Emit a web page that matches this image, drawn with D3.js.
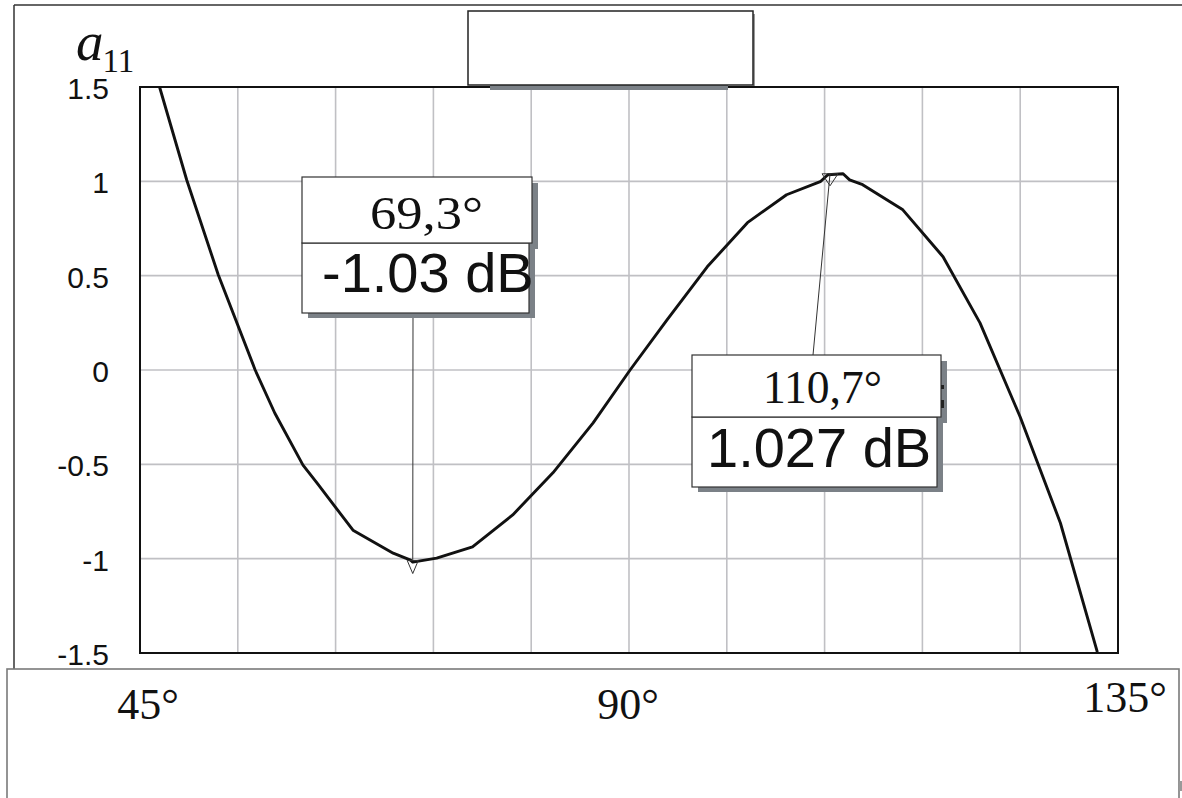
<!DOCTYPE html>
<html>
<head>
<meta charset="utf-8">
<script src="https://cdn.jsdelivr.net/npm/d3@7"></script>
<style>
html,body{margin:0;padding:0;background:#fff;}
svg{display:block;}
</style>
</head>
<body>
<svg id="chart" width="1182" height="798"></svg>
<script>
// ---- data ----
const angles = [46.8, 49.3, 52.2, 55.6, 57.4, 60.0, 61.3, 64.6, 68.3, 69.9, 70.1, 72.3, 75.6, 79.3, 83.0, 86.7, 90.1, 93.5, 97.2, 100.9, 104.5, 107.6, 108.3, 109.7, 110.3, 111.5, 115.2, 118.9, 122.3, 126.0, 129.7, 133.1];
const a11 = [1.50, 1.007, 0.505, 0.0, -0.228, -0.504, -0.60, -0.849, -0.971, -1.008, -1.018, -0.997, -0.938, -0.768, -0.545, -0.28, 0.0, 0.266, 0.547, 0.781, 0.929, 0.998, 1.035, 1.04, 1.008, 0.982, 0.849, 0.60, 0.25, -0.249, -0.811, -1.495];
const yTicks = [1.5, 1, 0.5, 0, -0.5, -1, -1.5];
const yTickLabels = ["1.5", "1", "0.5", "0", "-0.5", "-1", "-1.5"];
const xGrid = [45, 54, 63, 72, 81, 90, 99, 108, 117, 126, 135];
const xTicks = [45, 90, 135];
const xTickLabels = ["45°", "90°", "135°"];
const markerAngles = [70.1, 108.5];
const markerValues = [-1.01, 1.04];
const markerAngleLabels = ["69,3°", "110,7°"];
const markerValueLabels = ["-1.03 dB", "1.027 dB"];

// ---- layout ----
const svg = d3.select("#chart");
const L = 140, R = 1118, T = 87, B = 653;
const x = d3.scaleLinear().domain([45, 135]).range([L, R]);
const y = d3.scaleLinear().domain([-1.5, 1.5]).range([B, T]);
const shadow = "#7b8187";

// outer frame
svg.append("line").attr("x1", 14).attr("y1", 5).attr("x2", 1182).attr("y2", 5)
  .attr("stroke", "#333").attr("stroke-width", 1.5);
svg.append("line").attr("x1", 14).attr("y1", 5).attr("x2", 14).attr("y2", 670)
  .attr("stroke", "#333").attr("stroke-width", 1.5);

// grid
const g = svg.append("g");
g.selectAll("line.vg").data(xGrid).enter().append("line")
  .attr("x1", d => x(d)).attr("x2", d => x(d)).attr("y1", T).attr("y2", B)
  .attr("stroke", "#c0c0c4").attr("stroke-width", 1.6);
g.selectAll("line.hg").data(yTicks).enter().append("line")
  .attr("y1", d => y(d)).attr("y2", d => y(d)).attr("x1", L).attr("x2", R)
  .attr("stroke", "#c0c0c4").attr("stroke-width", 1.6);

// plot border
svg.append("rect").attr("x", L).attr("y", T).attr("width", R - L).attr("height", B - T)
  .attr("fill", "none").attr("stroke", "#111").attr("stroke-width", 2);

// y tick labels
svg.selectAll("text.yl").data(yTicks).enter().append("text")
  .attr("x", 109).attr("y", d => y(d) + 4)
  .attr("text-anchor", "end").attr("dominant-baseline", "middle")
  .attr("font-family", "Liberation Sans, Arial, sans-serif").attr("font-size", 30)
  .attr("fill", "#111")
  .text((d, i) => yTickLabels[i]);

// axis title a11
const at = svg.append("text").attr("x", 76).attr("y", 60)
  .attr("font-family", "Liberation Serif, Times New Roman, serif").attr("fill", "#111");
at.append("tspan").attr("font-style", "italic").attr("font-size", 55).text("a");
at.append("tspan").attr("font-size", 33).attr("dy", 12).attr("dx", -1).text("11");

// curve
const line = d3.line().x(d => x(d[0])).y(d => y(d[1]));
svg.append("path").datum(angles.map((a, i) => [a, a11[i]]))
  .attr("d", line).attr("fill", "none").attr("stroke", "#111")
  .attr("stroke-width", 2.9).attr("stroke-linejoin", "round");

// top (empty) legend box
svg.append("rect").attr("x", 490).attr("y", 85).attr("width", 238).attr("height", 5).attr("fill", shadow);
svg.append("rect").attr("x", 753).attr("y", 14).attr("width", 2).attr("height", 72).attr("fill", "#999");
svg.append("rect").attr("x", 468).attr("y", 11).attr("width", 285).attr("height", 74)
  .attr("fill", "#fff").attr("stroke", "#222").attr("stroke-width", 1.5);

// annotation boxes
const boxes = [
  {ux: 302, uy: 177, uw: 230, uh: 66, lw: 227, lh: 70, ax: 370, ay: 229, alen: 113, vx: 322, vy: 292, lineFrom: [413, 313], tw: 11, th: 13},
  {ux: 692, uy: 355, uw: 249, uh: 62, lw: 245, lh: 70, ax: 763, ay: 403, alen: 119, vx: 707, vy: 467, lineFrom: [813, 355], tw: 16, th: 12}
];
boxes.forEach((b, i) => {
  const mx = x(markerAngles[i]), my = y(markerValues[i]);
  // leader line
  svg.append("line").attr("x1", b.lineFrom[0]).attr("y1", b.lineFrom[1])
    .attr("x2", mx).attr("y2", my).attr("stroke", "#333").attr("stroke-width", 1);
  // marker triangle
  svg.append("path")
    .attr("d", `M${mx - b.tw / 2},${my} L${mx + b.tw / 2},${my} L${mx},${my + b.th} Z`)
    .attr("fill", "none").attr("stroke", "#333").attr("stroke-width", 1);
  const gb = svg.append("g");
  // shadows
  gb.append("rect").attr("x", b.ux + 6).attr("y", b.uy + 6).attr("width", b.uw).attr("height", b.uh).attr("fill", shadow);
  gb.append("rect").attr("x", b.ux + 6).attr("y", b.uy + b.uh + 5).attr("width", b.lw).attr("height", b.lh).attr("fill", shadow);
  // lower box
  gb.append("rect").attr("x", b.ux).attr("y", b.uy + b.uh).attr("width", b.lw).attr("height", b.lh)
    .attr("fill", "#fff").attr("stroke", "#333").attr("stroke-width", 1.2);
  // upper box
  gb.append("rect").attr("x", b.ux).attr("y", b.uy).attr("width", b.uw).attr("height", b.uh)
    .attr("fill", "#fff").attr("stroke", "#333").attr("stroke-width", 1.2);
  gb.append("text").attr("x", b.ax).attr("y", b.ay)
    .attr("textLength", b.alen).attr("lengthAdjust", "spacingAndGlyphs")
    .attr("font-family", "Liberation Serif, Times New Roman, serif").attr("font-size", 46)
    .attr("fill", "#111").text(markerAngleLabels[i]);
  gb.append("text").attr("x", b.vx).attr("y", b.vy)
    .attr("font-family", "Liberation Sans, Arial, sans-serif").attr("font-size", 56)
    .attr("fill", "#111").text(markerValueLabels[i]);
});
// small hidden fragment at right of second box
svg.append("rect").attr("x", 941).attr("y", 385).attr("width", 3).attr("height", 4).attr("fill", "#222");
svg.append("rect").attr("x", 941).attr("y", 400).attr("width", 3).attr("height", 8).attr("fill", "#222");

// bottom box (x-axis label area)
svg.append("rect").attr("x", 7).attr("y", 669).attr("width", 1172).attr("height", 160)
  .attr("fill", "#fff").attr("stroke", "#7a7a7a").attr("stroke-width", 1.6);
svg.append("rect").attr("x", 1179).attr("y", 781).attr("width", 3).attr("height", 10).attr("fill", "#999");

// x tick labels
const nudge = [8, -1, 7];
const base = [719, 719, 712];
svg.selectAll("text.xl").data(xTicks).enter().append("text")
  .attr("x", (d, i) => x(d) + nudge[i]).attr("y", (d, i) => base[i])
  .attr("text-anchor", "middle")
  .attr("font-family", "Liberation Serif, Times New Roman, serif").attr("font-size", 44)
  .attr("fill", "#111")
  .text((d, i) => xTickLabels[i]);
</script>
</body>
</html>
